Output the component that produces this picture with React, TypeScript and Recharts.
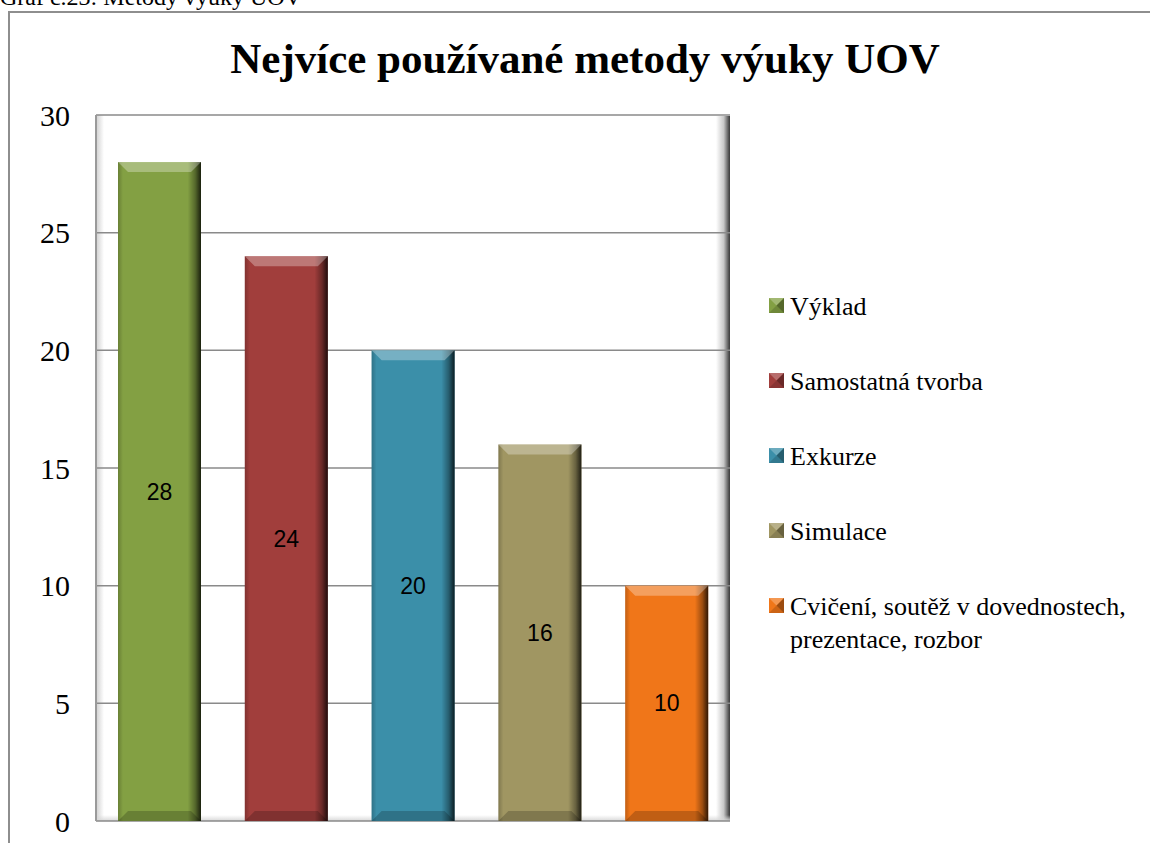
import React from 'react';
import { BarChart, Bar, XAxis, YAxis, CartesianGrid, Cell, LabelList } from 'recharts';

const categories = [
  'Výklad',
  'Samostatná tvorba',
  'Exkurze',
  'Simulace',
  'Cvičení, soutěž v dovednostech,\nprezentace, rozbor',
];
const values = [28, 24, 20, 16, 10];
const colors = ['#83a043', '#a13e3c', '#3b8fa9', '#a09662', '#f07619'];
const yTicks = [0, 5, 10, 15, 20, 25, 30];

const chartTitle = 'Nejvíce používané metody výuky UOV';
const caption = 'Graf č.23: Metody výuky UOV';

const chartData = categories.map((name, i) => ({ name, value: values[i] }));

const serif = 'Liberation Serif, Times New Roman, serif';

// plot box (used for the 3D wall decoration only)
const plotLeft = 96;
const plotTop = 115;
const plotRight = 730;
const plotBottom = 821;

// bar with a bevelled look (light top edge, dark right side)
const BevelBar = (props: any) => {
  const { x, y, width, height, fill } = props;
  if (!height || height <= 0) return null;
  const b = Math.min(10, width / 4, height / 4);
  return (
    <g>
      <rect x={x} y={y} width={width} height={height} fill={fill} />
      <rect x={x} y={y} width={width} height={height} fill="url(#barShade)" />
      <polygon
        points={`${x},${y} ${x + width},${y} ${x + width - b},${y + b} ${x + b},${y + b}`}
        fill="#fff"
        opacity={0.3}
      />
      <polygon
        points={`${x},${y + height} ${x + width},${y + height} ${x + width - b},${y + height - b} ${x + b},${y + height - b}`}
        fill="#000"
        opacity={0.2}
      />
    </g>
  );
};

const LegendMark = ({ color }: { color: string }) => (
  <svg width={15} height={15} style={{ display: 'block' }}>
    <rect x={0} y={0} width={15} height={15} fill={color} />
    <polygon points="0,0 15,0 7.5,7.5" fill="#fff" opacity={0.25} />
    <polygon points="15,0 15,15 7.5,7.5" fill="#000" opacity={0.35} />
    <polygon points="0,15 15,15 7.5,7.5" fill="#000" opacity={0.15} />
  </svg>
);

const App: React.FC = () => {
  return (
    <div style={{ position: 'absolute', left: 0, top: 0, width: 1150, height: 843, overflow: 'hidden', background: '#fff' }}>
      <div style={{ position: 'absolute', left: 0, top: -15, fontFamily: serif, fontSize: 24, lineHeight: '24px', whiteSpace: 'nowrap' }}>
        {caption}
      </div>
      <div style={{ position: 'absolute', left: 8, top: 11, width: 1160, height: 860, border: '2px solid #8e8e8e' }} />
      <div style={{ position: 'absolute', left: 8, width: 1154, top: 37, textAlign: 'center', fontFamily: serif, fontWeight: 'bold', fontSize: 43, lineHeight: '43px', whiteSpace: 'nowrap' }}>
        {chartTitle}
      </div>

      {/* side walls of the plot box */}
      <div
        style={{
          position: 'absolute',
          left: plotLeft,
          top: plotTop,
          width: 8,
          height: plotBottom - plotTop,
          background: 'linear-gradient(to right, #d0d0d0, rgba(255,255,255,0))',
        }}
      />
      <div
        style={{
          position: 'absolute',
          left: plotRight - 14,
          top: plotTop + 1,
          width: 14,
          height: plotBottom - plotTop - 1,
          background: 'linear-gradient(to right, rgba(255,255,255,0), #c8c8c8 55%, #555 90%, #3a3a3a)',
        }}
      />
      <div
        style={{
          position: 'absolute',
          left: plotLeft,
          top: plotBottom - 6,
          width: plotRight - plotLeft,
          height: 6,
          background: 'linear-gradient(to bottom, rgba(255,255,255,0), #d8d8d8)',
        }}
      />

      <div style={{ position: 'absolute', left: 0, top: 0 }}>
        <BarChart width={1150} height={843} data={chartData} margin={{ top: 115, right: 420, bottom: 22, left: 36 }}>
          <defs>
            <linearGradient id="barShade" x1="0" y1="0" x2="1" y2="0">
              <stop offset="0" stopColor="#000" stopOpacity={0.2} />
              <stop offset="0.06" stopColor="#000" stopOpacity={0} />
              <stop offset="0.84" stopColor="#000" stopOpacity={0} />
              <stop offset="0.93" stopColor="#000" stopOpacity={0.35} />
              <stop offset="1" stopColor="#000" stopOpacity={0.8} />
            </linearGradient>
          </defs>
          <CartesianGrid vertical={false} stroke="#8a8a8a" strokeWidth={1.5} />
          <XAxis dataKey="name" tick={false} tickLine={false} height={0} axisLine={{ stroke: '#9a9a9a', strokeWidth: 2 }} />
          <YAxis
            domain={[0, 30]}
            ticks={yTicks}
            width={60}
            tickLine={false}
            tickMargin={20}
            axisLine={{ stroke: '#9a9a9a', strokeWidth: 2 }}
            tick={{ fontFamily: serif, fontSize: 30, fill: '#000' }}
          />
          <Bar dataKey="value" barSize={83} shape={BevelBar} isAnimationActive={false}>
            {chartData.map((d, i) => (
              <Cell key={d.name} fill={colors[i]} />
            ))}
            <LabelList dataKey="value" position="center" style={{ fontFamily: 'Liberation Sans, Arial, sans-serif', fontSize: 23, fill: '#000' }} />
          </Bar>
        </BarChart>
      </div>

      <div style={{ position: 'absolute', left: 769, top: 290 }}>
        {categories.map((c, i) => (
          <div key={c} style={{ display: 'flex', alignItems: 'flex-start', height: 75 }}>
            <div style={{ marginTop: 8, marginRight: 6 }}>
              <LegendMark color={colors[i]} />
            </div>
            <div style={{ fontFamily: serif, fontSize: 26, lineHeight: '33px', whiteSpace: 'pre', color: '#000' }}>{c}</div>
          </div>
        ))}
      </div>
    </div>
  );
};

export default App;
